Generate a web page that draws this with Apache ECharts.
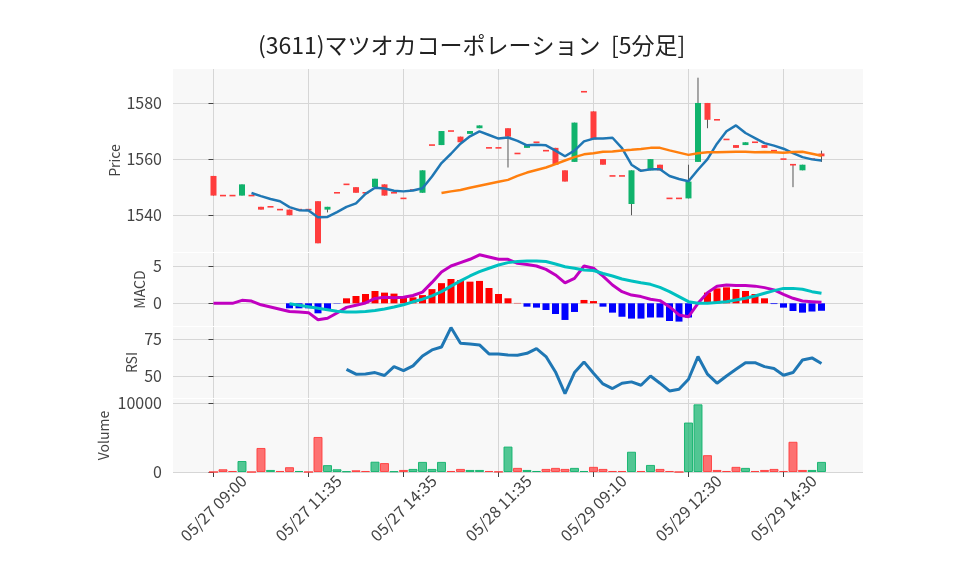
<!DOCTYPE html>
<html>
<head>
<meta charset="utf-8">
<title>(3611)マツオカコーポレーション 5分足</title>
<script src="https://cdn.jsdelivr.net/npm/echarts@6.0.0/dist/echarts.min.js"></script>
<style>
  html, body { margin: 0; padding: 0; background: #fff; }
  #chart { width: 958px; height: 575px; }
</style>
</head>
<body>
<div id="chart"></div>
<script>
// ---- data ----
const times = [
  '05/27 09:00', '05/27 09:05', '05/27 09:20', '05/27 09:35', '05/27 09:50', '05/27 10:05', '05/27 10:25', '05/27 10:40', '05/27 11:00', '05/27 11:15',
  '05/27 11:35', '05/27 12:30', '05/27 12:40', '05/27 12:55', '05/27 13:10', '05/27 13:25', '05/27 13:40', '05/27 13:55', '05/27 14:10', '05/27 14:25',
  '05/27 14:35', '05/27 14:50', '05/27 15:10', '05/27 15:25', '05/28 09:00', '05/28 09:20', '05/28 09:45', '05/28 10:15', '05/28 10:40', '05/28 11:10',
  '05/28 11:35', '05/28 12:30', '05/28 13:00', '05/28 13:25', '05/28 13:50', '05/28 14:15', '05/28 14:40', '05/28 15:05', '05/28 15:25', '05/29 09:00',
  '05/29 09:10', '05/29 09:20', '05/29 09:35', '05/29 09:50', '05/29 10:05', '05/29 10:20', '05/29 10:40', '05/29 11:00', '05/29 11:15', '05/29 11:25',
  '05/29 12:30', '05/29 12:35', '05/29 12:45', '05/29 13:00', '05/29 13:10', '05/29 13:25', '05/29 13:40', '05/29 13:55', '05/29 14:05', '05/29 14:20',
  '05/29 14:30', '05/29 14:40', '05/29 14:50', '05/29 15:05', '05/29 15:25'
];
const opens = [
  1554, 1547, 1547, 1547, 1547, 1543, 1543, 1542, 1542, 1542,
  1542, 1545, 1542, 1548, 1551, 1550, 1548, 1550, 1551, 1548,
  1546, 1549, 1548, 1565, 1565, 1570, 1568, 1569, 1571, 1564,
  1564, 1571, 1562, 1564, 1566, 1563, 1564, 1556, 1559, 1584,
  1577, 1560, 1554, 1554, 1544, 1556, 1556, 1558, 1546, 1546,
  1546, 1559, 1580, 1574, 1567, 1565, 1565, 1566, 1565, 1563,
  1560, 1558, 1556, 1560, 1562
];
const closes = [
  1547, 1547, 1547, 1551, 1547, 1542, 1543, 1542, 1540, 1542,
  1542, 1530, 1543, 1548, 1551, 1548, 1548, 1553, 1547, 1548,
  1546, 1549, 1556, 1565, 1570, 1570, 1566, 1570, 1572, 1564,
  1564, 1568, 1562, 1565, 1566, 1563, 1558, 1552, 1573, 1584,
  1567, 1558, 1554, 1554, 1556, 1556, 1560, 1556, 1546, 1546,
  1552, 1580, 1574, 1574, 1567, 1564, 1566, 1566, 1564, 1563,
  1560, 1558, 1558, 1560, 1561
];
const highs = [
  1554, 1547, 1547, 1551, 1547, 1543, 1543, 1542, 1542, 1542,
  1542, 1545, 1543, 1548, 1551, 1550, 1548, 1553, 1551, 1548,
  1546, 1549, 1556, 1565, 1570, 1570, 1568, 1570, 1572, 1564,
  1564, 1571, 1562, 1565, 1566, 1563, 1564, 1556, 1573, 1584,
  1577, 1560, 1554, 1554, 1556, 1556, 1560, 1558, 1546, 1546,
  1558, 1589, 1580, 1574, 1567, 1565, 1566, 1566, 1565, 1563,
  1560, 1558, 1558, 1560, 1563
];
const lows = [
  1547, 1547, 1547, 1547, 1547, 1542, 1543, 1542, 1540, 1542,
  1542, 1530, 1541, 1548, 1551, 1548, 1548, 1550, 1547, 1548,
  1546, 1549, 1548, 1565, 1565, 1570, 1566, 1569, 1571, 1564,
  1564, 1557, 1562, 1564, 1566, 1563, 1558, 1552, 1559, 1584,
  1567, 1558, 1554, 1554, 1540, 1556, 1556, 1556, 1546, 1546,
  1546, 1559, 1571, 1574, 1567, 1564, 1565, 1566, 1564, 1563,
  1560, 1550, 1556, 1560, 1559
];
const volumes = [
  0, 400, 150, 1600, 0, 3500, 300, 150, 700, 150,
  0, 5100, 1000, 400, 100, 250, 150, 1500, 1300, 100,
  300, 450, 1470, 450, 1470, 150, 450, 300, 300, 150,
  50, 3700, 600, 300, 150, 450, 600, 450, 600, 150,
  750, 450, 150, 150, 2950, 150, 1030, 450, 150, 0,
  7200, 9850, 2450, 300, 150, 750, 600, 150, 300, 450,
  150, 4400, 300, 300, 1470
];
// moving averages, first value belongs to bar 4 / bar 24
const ma5Start = 4;
const ma5 = [
  1547.9, 1546.8, 1545.8, 1545.0, 1542.9, 1541.8, 1541.7, 1539.3, 1539.4, 1541.1,
  1543.0, 1544.2, 1547.6, 1549.8, 1549.5, 1548.7, 1548.5, 1548.8, 1549.6, 1553.8,
  1558.6, 1561.9, 1565.5, 1568.1, 1569.9, 1568.6, 1567.3, 1567.7, 1566.5, 1564.9,
  1565.1, 1564.9, 1563.0, 1561.0, 1563.0, 1566.3, 1567.3, 1567.3, 1567.6, 1563.9,
  1558.0, 1555.8, 1556.4, 1556.4, 1554.0, 1552.9, 1552.1, 1556.2, 1560.0, 1565.5,
  1569.9, 1572.0, 1569.3, 1567.5, 1565.7, 1564.8, 1563.7, 1562.1, 1560.7, 1559.9,
  1559.5
];
const ma25Start = 24;
const ma25 = [
  1547.9, 1548.5, 1549.0, 1549.8, 1550.5, 1551.2, 1551.9, 1552.6, 1554.0, 1555.2,
  1556.1, 1557.0, 1558.2, 1559.5, 1560.7, 1561.7, 1562.1, 1562.6, 1562.7, 1563.1,
  1563.3, 1563.6, 1564.0, 1564.0, 1563.1, 1562.3, 1561.5, 1562.1, 1562.4, 1562.4,
  1562.5, 1562.6, 1562.6, 1562.4, 1562.5, 1562.4, 1562.3, 1562.5, 1562.6, 1561.9,
  1561.2
];
// MACD line from bar 0, signal and histogram from bar 8
const macd = [
  0, 0, 0, 0.4, 0.3, -0.2, -0.5, -0.8, -1.1, -1.15,
  -1.25, -2.2, -2.0, -1.3, -0.55, -0.25, 0.05, 0.65, 0.8, 0.75,
  0.8, 1.05, 1.5, 2.8, 4.2, 5.0, 5.45, 5.9, 6.5, 6.2,
  5.9, 5.9, 5.35, 5.2, 5.0, 4.55, 3.8, 2.75, 3.35, 5.0,
  4.7, 3.65, 2.45, 1.56, 1.1, 0.9, 0.54, 0.36, -0.45, -1.56,
  -1.8, 0, 1.43, 2.3, 2.46, 2.37, 2.37, 2.3, 2.1, 1.8,
  1.2, 0.67, 0.31, 0.22, 0.13
];
const signalStart = 8;
const signal = [
  -0.05, -0.25, -0.45, -0.65, -0.85, -1.05, -1.15, -1.15, -1.1, -0.95,
  -0.75, -0.5, -0.2, 0.2, 0.55, 1.0, 1.56, 2.3, 3.0, 3.66,
  4.24, 4.7, 5.13, 5.45, 5.6, 5.67, 5.67, 5.6, 5.27, 4.9,
  4.7, 4.46, 4.4, 4.0, 3.66, 3.25, 3.0, 2.75, 2.54, 2.14,
  1.56, 0.9, 0.22, 0, 0, 0.1, 0.22, 0.45, 0.67, 0.98,
  1.34, 1.7, 2.0, 2.0, 1.88, 1.56, 1.34
];
const hist = [
  -0.67, -0.67, -0.67, -1.34, -0.76, -0.05, 0.67, 0.98, 1.25, 1.65,
  1.43, 1.3, 0.9, 0.8, 1.1, 1.9, 2.7, 3.26, 3.1, 2.9,
  3.0, 2.05, 1.25, 0.67, 0.05, -0.45, -0.58, -0.9, -1.43, -2.23,
  -1.16, 0.45, 0.3, -0.45, -1.25, -1.8, -2.05, -2.05, -1.9, -1.9,
  -2.37, -2.45, -1.9, 0.05, 1.43, 2.0, 2.14, 1.92, 1.65, 1.25,
  0.67, -0.1, -0.58, -1.03, -1.25, -1.1, -1.0
];
const rsiStart = 14;
const rsi = [
  54.7, 51.4, 51.6, 52.5, 50.5, 56.5, 53.8, 57.0, 63.7, 67.8,
  69.8, 82.9, 72.3, 71.8, 71.2, 65.1, 65.1, 64.4, 64.2, 65.5,
  68.7, 63.3, 52.9, 38.3, 52.5, 59.7, 52.0, 44.8, 41.7, 45.3,
  46.2, 43.9, 50.2, 45.3, 40.1, 41.2, 48.0, 63.3, 51.4, 45.3,
  50.2, 54.7, 59.2, 59.2, 56.5, 55.2, 50.7, 52.5, 61.0, 62.4,
  58.6
];
const xTicks = [0, 10, 20, 30, 40, 50, 60];
const priceTicks = [1540, 1560, 1580];
const macdTicks = [0, 5];
const rsiTicks = [50, 75];
const volumeTicks = [0, 10000];

// ---- styling ----
const UP = '#10b36c';
const DOWN = '#ff3d3d';
const GRID_BG = '#f8f8f8';
const GRID_LINE = '#d6d6d6';
const TEXT = '#444';
const FONT = "'Noto Sans CJK JP', 'Noto Sans', sans-serif";
const X_MIN = -4.263, X_MAX = 68.37;

const pairs = (arr, start) => arr.map((v, k) => [start + k, v]);

const candleData = closes.map((c, i) => [i, opens[i], c, lows[i], highs[i]]);
const volumeData = volumes.map((v, i) => {
  const up = i > 0 && closes[i] > closes[i - 1];
  return {
    value: [i, v],
    itemStyle: {
      color: up ? 'rgba(16,179,108,0.72)' : 'rgba(255,61,61,0.72)',
      borderColor: up ? 'rgba(16,179,108,0.9)' : 'rgba(255,61,61,0.9)',
      borderWidth: 1
    }
  };
});
const histData = pairs(hist, signalStart).map(p => ({
  value: p,
  itemStyle: { color: p[1] >= 0 ? '#ff0000' : '#0000ff' }
}));

function renderCandle(params, api) {
  const i = api.value(0);
  const o = api.value(1), c = api.value(2), l = api.value(3), h = api.value(4);
  const pO = api.coord([i, o]);
  const pC = api.coord([i, c]);
  const pL = api.coord([i, l]);
  const pH = api.coord([i, h]);
  const w = 6;
  let top = Math.min(pO[1], pC[1]);
  let hgt = Math.abs(pO[1] - pC[1]);
  if (hgt < 1.6) { top = top - (1.6 - hgt) / 2; hgt = 1.6; }
  const color = c > o ? UP : DOWN;
  return {
    type: 'group',
    children: [
      { type: 'line', shape: { x1: pH[0], y1: pH[1], x2: pL[0], y2: pL[1] },
        style: { stroke: '#555', lineWidth: 1 } },
      { type: 'rect', shape: { x: pO[0] - w / 2, y: top, width: w, height: hgt },
        style: { fill: color } }
    ]
  };
}

const grids = [
  { left: 173, right: 95, top: 69, height: 183 },
  { left: 173, right: 95, top: 253, height: 73 },
  { left: 173, right: 95, top: 327, height: 71 },
  { left: 173, right: 95, top: 399, height: 73 }
].map(g => Object.assign(g, { show: true, backgroundColor: GRID_BG, borderWidth: 0 }));

function xAxisFor(gi, last) {
  return {
    type: 'value', gridIndex: gi, min: X_MIN, max: X_MAX,
    axisLine: { show: false },
    axisTick: { show: last, customValues: xTicks, length: 5, lineStyle: { color: TEXT } },
    axisLabel: {
      show: last, customValues: xTicks, rotate: 45, align: 'center', verticalAlign: 'middle',
      margin: 36, color: TEXT, fontSize: 16, fontFamily: FONT,
      formatter: v => times[Math.round(v)]
    },
    splitLine: { show: true, lineStyle: { color: GRID_LINE, width: 1 } }
  };
}

function yAxisFor(gi, name, gap, min, max, ticks) {
  return {
    type: 'value', gridIndex: gi, min: min, max: max,
    name: name, nameLocation: 'middle', nameGap: gap, nameMoveOverlap: false,
    nameTextStyle: { color: TEXT, fontSize: 14, fontFamily: FONT },
    axisLine: { show: false },
    axisTick: { show: true, customValues: ticks, length: 5, lineStyle: { color: TEXT } },
    axisLabel: {
      customValues: ticks, margin: 11, color: TEXT, fontSize: 16, fontFamily: FONT,
      formatter: v => String(v)
    },
    splitLine: { show: true, lineStyle: { color: GRID_LINE, width: 1 } }
  };
}

const chart = echarts.init(document.getElementById('chart'));
chart.setOption({
  animation: false,
  backgroundColor: '#fff',
  textStyle: { fontFamily: FONT },
  title: {
    text: '(3611)マツオカコーポレーション  [5分足]',
    left: 253, top: 29,
    textStyle: { fontSize: 23, fontWeight: 'normal', color: '#222', fontFamily: FONT }
  },
  grid: grids,
  xAxis: [xAxisFor(0, false), xAxisFor(1, false), xAxisFor(2, false), xAxisFor(3, true)],
  yAxis: [
    yAxisFor(0, 'Price', 51, 1526.9, 1592.1, priceTicks),
    yAxisFor(1, 'MACD', 26, -3.04, 6.74, macdTicks),
    yAxisFor(2, 'RSI', 34, 35.3, 83.3, rsiTicks),
    yAxisFor(3, 'Volume', 62, 0, 10626, volumeTicks)
  ],
  series: [
    {
      name: 'Price', type: 'custom', xAxisIndex: 0, yAxisIndex: 0,
      renderItem: renderCandle, data: candleData,
      encode: { x: 0, y: [1, 2, 3, 4] }
    },
    {
      name: 'MA5', type: 'line', xAxisIndex: 0, yAxisIndex: 0, data: pairs(ma5, ma5Start),
      showSymbol: false, lineStyle: { color: '#1f77b4', width: 2.5 }, z: 3
    },
    {
      name: 'MA25', type: 'line', xAxisIndex: 0, yAxisIndex: 0, data: pairs(ma25, ma25Start),
      showSymbol: false, lineStyle: { color: '#ff7f0e', width: 2.5 }, z: 3
    },
    {
      name: 'Hist', type: 'bar', xAxisIndex: 1, yAxisIndex: 1, data: histData, barWidth: 7
    },
    {
      name: 'MACD', type: 'line', xAxisIndex: 1, yAxisIndex: 1, data: pairs(macd, 0),
      showSymbol: false, lineStyle: { color: '#c000c0', width: 3 }, z: 3
    },
    {
      name: 'Signal', type: 'line', xAxisIndex: 1, yAxisIndex: 1, data: pairs(signal, signalStart),
      showSymbol: false, lineStyle: { color: '#00c0c0', width: 3 }, z: 3
    },
    {
      name: 'RSI', type: 'line', xAxisIndex: 2, yAxisIndex: 2, data: pairs(rsi, rsiStart),
      showSymbol: false, lineStyle: { color: '#1f77b4', width: 3 }
    },
    {
      name: 'Volume', type: 'bar', xAxisIndex: 3, yAxisIndex: 3, data: volumeData, barWidth: 9
    }
  ]
});
</script>
</body>
</html>
